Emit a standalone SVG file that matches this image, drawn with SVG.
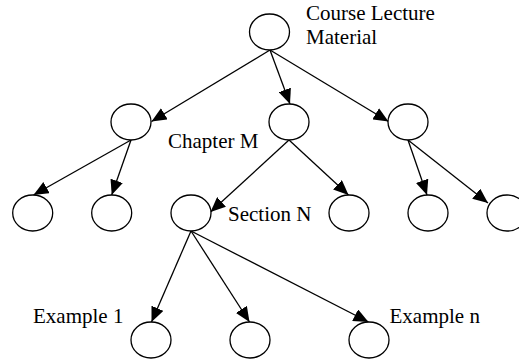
<svg xmlns="http://www.w3.org/2000/svg" width="519" height="360" viewBox="0 0 519 360">
<style>
.n{fill:#fff;stroke:#000;stroke-width:1.3}
.e{stroke:#000;stroke-width:1.3;fill:none;marker-end:url(#ah)}
.t{font-family:"Liberation Serif","Times New Roman",serif;font-size:21px;fill:#000}
</style>
<defs>
<marker id="ah" markerUnits="userSpaceOnUse" markerWidth="15" markerHeight="13" refX="15" refY="6.5" orient="auto">
<path d="M0,0 L15,6.5 L0,13 z" fill="#000"/>
</marker>
</defs>
<rect width="519" height="360" fill="#fff"/>
<g id="connectors">
<line class="e" x1="270" y1="50" x2="151.5" y2="121.5"/>
<line class="e" x1="270" y1="50" x2="290" y2="104"/>
<line class="e" x1="270" y1="50" x2="388.5" y2="121.5"/>
<line class="e" x1="131" y1="140" x2="33.5" y2="195"/>
<line class="e" x1="131" y1="140" x2="111.7" y2="195"/>
<line class="e" x1="289" y1="140" x2="210.5" y2="212"/>
<line class="e" x1="289" y1="140" x2="348.5" y2="195"/>
<line class="e" x1="408" y1="140" x2="427" y2="195"/>
<line class="e" x1="408" y1="140" x2="488" y2="203"/>
<line class="e" x1="191" y1="231" x2="151.5" y2="322"/>
<line class="e" x1="191" y1="231" x2="249.5" y2="322"/>
<line class="e" x1="191" y1="231" x2="368.5" y2="322"/>
</g>
<g id="root"><ellipse class="n" cx="269.5" cy="32" rx="20" ry="18"/><text class="t" x="306" y="20">Course Lecture</text><text class="t" x="306" y="44">Material</text></g>
<g id="ch1"><ellipse class="n" cx="131" cy="122" rx="20" ry="18"/></g>
<g id="chM"><ellipse class="n" cx="289" cy="122" rx="20" ry="18"/><text class="t" x="168" y="148">Chapter M</text></g>
<g id="ch3"><ellipse class="n" cx="408" cy="122" rx="20" ry="18"/></g>
<g id="s1"><ellipse class="n" cx="32.7" cy="213" rx="20" ry="18"/></g>
<g id="s2"><ellipse class="n" cx="111.7" cy="213" rx="20" ry="18"/></g>
<g id="sN"><ellipse class="n" cx="191" cy="213" rx="20" ry="18"/><text class="t" x="228" y="221">Section N</text></g>
<g id="s4"><ellipse class="n" cx="349" cy="213" rx="20" ry="18"/></g>
<g id="s5"><ellipse class="n" cx="428" cy="213" rx="20" ry="18"/></g>
<g id="s6"><ellipse class="n" cx="507" cy="213" rx="20" ry="18"/></g>
<g id="ex1"><ellipse class="n" cx="151" cy="340" rx="20" ry="18"/><text class="t" x="33" y="323">Example 1</text></g>
<g id="ex2"><ellipse class="n" cx="250" cy="340" rx="20" ry="18"/></g>
<g id="exn"><ellipse class="n" cx="369" cy="340" rx="20" ry="18"/><text class="t" x="389.5" y="323">Example n</text></g>
</svg>
